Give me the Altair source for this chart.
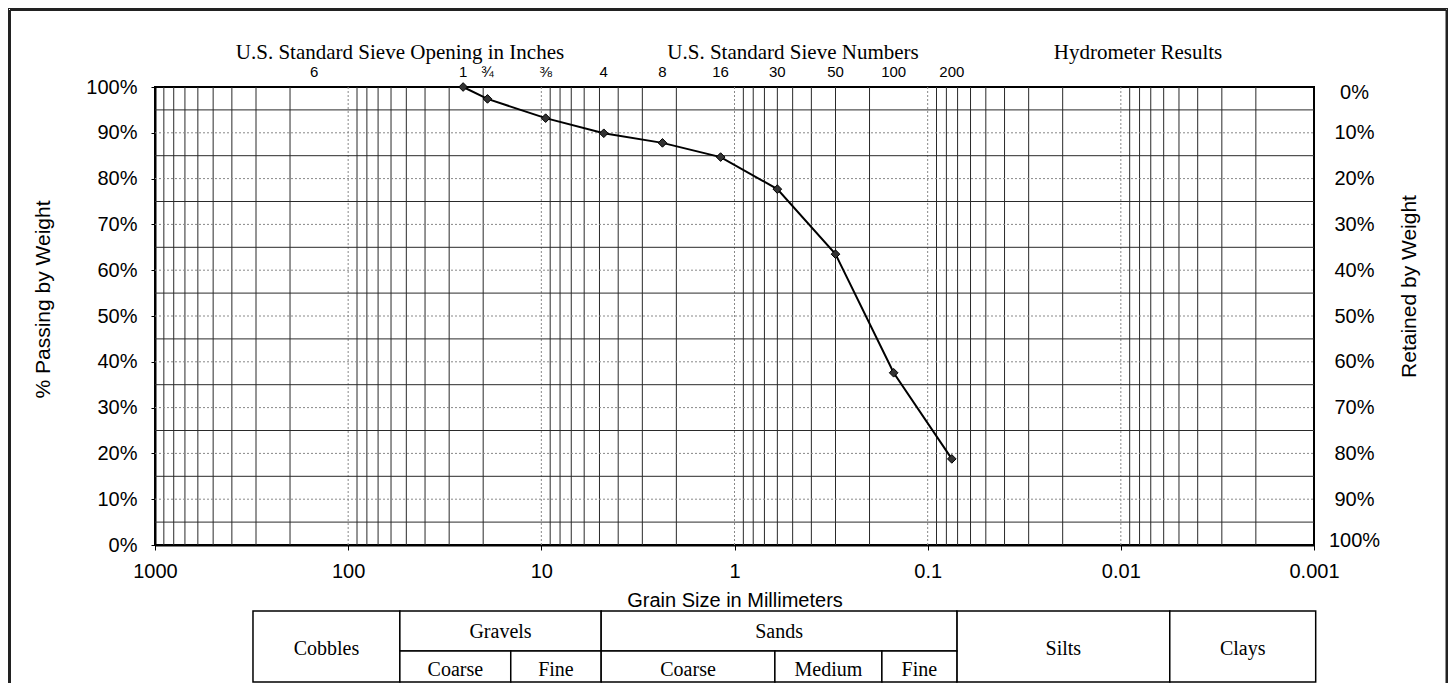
import altair as alt
import pandas as pd
import numpy as np

# ---------------- data ----------------
sieve_mm = [25.4, 19.0, 9.5, 4.75, 2.36, 1.18, 0.60, 0.30, 0.15, 0.075]
passing_pct = [100.0, 97.4, 93.2, 89.9, 87.8, 84.7, 77.7, 63.5, 37.6, 18.8]

label_mm = [150, 25.4, 19.0, 9.5, 4.75, 2.36, 1.18, 0.60, 0.30, 0.15, 0.075]
label_txt = ["6", "1", "¾", "⅜", "4", "8", "16", "30", "50", "100", "200"]

axis_mm = [1000, 100, 10, 1, 0.1, 0.01, 0.001]
decade_mm = [100, 10, 1, 0.1, 0.01]
minor_mm = [k * d for d in [100, 10, 1, 0.1, 0.01, 0.001] for k in range(2, 10)]
pct_ticks = list(range(0, 101, 10))
pct_major = list(range(10, 100, 10))
pct_half = list(range(5, 100, 10))

main_cells = ["Cobbles", "Gravels", "Sands", "Silts", "Clays"]
main_from = [311, 54, 4.9, 0.0706, 0.00558]
main_to = [54, 4.9, 0.0706, 0.00558, 0.00098]
main_span = ["full", "top", "top", "full", "full"]
sub_cells = ["Coarse", "Fine", "Coarse", "Medium", "Fine"]
sub_from = [54, 14.4, 4.9, 0.618, 0.1726]
sub_to = [14.4, 4.9, 0.618, 0.1726, 0.0706]

# ---------------- tables ----------------
curve = pd.DataFrame({"size": sieve_mm, "passing": passing_pct})
labels = pd.DataFrame({"size": label_mm, "txt": label_txt})
dec = pd.DataFrame({"size": decade_mm})
minor = pd.DataFrame({"size": minor_mm})
hmaj = pd.DataFrame({"pct": pct_major})
hhalf = pd.DataFrame({"pct": pct_half})
cells = pd.DataFrame({"name": main_cells, "a": main_from, "b": main_to, "span": main_span})
cells["mid"] = np.sqrt(cells["a"] * cells["b"])
full_df = cells[cells["span"] == "full"]
top_df = cells[cells["span"] == "top"]
subs = pd.DataFrame({"name": sub_cells, "a": sub_from, "b": sub_to})
subs["mid"] = np.sqrt(subs["a"] * subs["b"])

SANS = "Liberation Sans, Arial, sans-serif"
SERIF = "Liberation Serif, Times New Roman, serif"

W, H = 1159, 458
xs = alt.Scale(type="log", domain=[0.001, 1000], reverse=True, nice=False)
ys = alt.Scale(domain=[0, 100], nice=False, zero=False)

# ---------------- grid ----------------
vminor = alt.Chart(minor).mark_rule(color="#2a2a2a", strokeWidth=1).encode(
    x=alt.X("size:Q", scale=xs, axis=None),
    y=alt.value(0), y2=alt.value(H))
vdec = alt.Chart(dec).mark_rule(color="#888", strokeWidth=1, strokeDash=[2, 2]).encode(
    x=alt.X("size:Q", scale=xs, axis=None),
    y=alt.value(0), y2=alt.value(H))
hh = alt.Chart(hhalf).mark_rule(color="#2a2a2a", strokeWidth=1).encode(
    y=alt.Y("pct:Q", scale=ys, axis=None),
    x=alt.value(0), x2=alt.value(W))
hm = alt.Chart(hmaj).mark_rule(color="#888", strokeWidth=1, strokeDash=[2, 2]).encode(
    y=alt.Y("pct:Q", scale=ys, axis=None),
    x=alt.value(0), x2=alt.value(W))

# ---------------- curve ----------------
xaxis = alt.Axis(
    orient="bottom", values=axis_mm,
    labelExpr="datum.value >= 1 ? format(datum.value, 'd') : format(datum.value, '.3~f')",
    tickSize=5, tickColor="black", labelPadding=11, labelFontSize=20, labelFont=SANS,
    labelFlush=False, labelOverlap=False, labelBound=False, grid=False,
    domainColor="black", domainWidth=2,
    title="Grain Size in Millimeters", titleFont=SANS, titleFontSize=20,
    titleFontWeight="normal", titleY=55, titleBaseline="middle")
yaxis = alt.Axis(
    orient="left", values=pct_ticks, labelExpr="datum.value + '%'",
    tickSize=4, tickColor="black", labelPadding=14, labelFontSize=20, labelFont=SANS,
    labelFlush=False, labelOverlap=False, labelBound=False, grid=False,
    domainColor="black", domainWidth=2,
    title="% Passing by Weight", titleFont=SANS, titleFontSize=21,
    titleFontWeight="normal", titleAngle=270, titleX=-112, titleY=212,
    titleBaseline="middle", titleAlign="center")
raxis = alt.Axis(
    orient="right", values=pct_ticks, labelExpr="(100 - datum.value) + '%'",
    ticks=False, tickSize=0, labelPadding=40, labelAlign="center",
    labelFontSize=20, labelFont=SANS, labelFlush=True, labelFlushOffset=5,
    labelOverlap=False, labelBound=False, grid=False, domain=False,
    title="Retained by Weight", titleFont=SANS, titleFontSize=21,
    titleFontWeight="normal", titleAngle=270, titleX=95, titleY=199,
    titleBaseline="middle", titleAlign="center")

line = alt.Chart(curve).mark_line(color="black", strokeWidth=2).encode(
    x=alt.X("size:Q", scale=xs, axis=xaxis),
    y=alt.Y("passing:Q", scale=ys, axis=yaxis))
pts = alt.Chart(curve).mark_point(shape="diamond", filled=True, fill="#333",
                                  stroke="black", strokeWidth=1, size=75, opacity=1).encode(
    x=alt.X("size:Q", scale=xs, axis=None),
    y=alt.Y("passing:Q", scale=ys, axis=raxis))

# ---------------- top labels ----------------
sieve_lbl = alt.Chart(labels).mark_text(font=SANS, fontSize=15, color="black",
                                        baseline="middle", align="center").encode(
    x=alt.X("size:Q", scale=xs, axis=None), y=alt.value(-15), text="txt:N")

def header(txt, px):
    return alt.Chart(pd.DataFrame({"t": [txt]})).mark_text(
        font=SERIF, fontSize=21, color="black", baseline="middle", align="center").encode(
        x=alt.value(px), y=alt.value(-34), text="t:N")

h1 = header("U.S. Standard Sieve Opening in Inches", 245)
h2 = header("U.S. Standard Sieve Numbers", 638)
h3 = header("Hydrometer Results", 983)

# ---------------- classification table ----------------
T_TOP, T_MID, T_BOT = 524, 564, 595
full_cells = alt.Chart(full_df).mark_rect(fill="white", stroke="black", strokeWidth=1.5).encode(
    x=alt.X("a:Q", scale=xs, axis=None), x2="b:Q",
    y=alt.value(T_TOP), y2=alt.value(T_BOT))
top_cells = alt.Chart(top_df).mark_rect(fill="white", stroke="black", strokeWidth=1.5).encode(
    x=alt.X("a:Q", scale=xs, axis=None), x2="b:Q",
    y=alt.value(T_TOP), y2=alt.value(T_MID))
bot_cells = alt.Chart(subs).mark_rect(fill="white", stroke="black", strokeWidth=1.5).encode(
    x=alt.X("a:Q", scale=xs, axis=None), x2="b:Q",
    y=alt.value(T_MID), y2=alt.value(T_BOT))
full_txt = alt.Chart(full_df).mark_text(
    font=SERIF, fontSize=20, color="black", baseline="middle").encode(
    x=alt.X("mid:Q", scale=xs, axis=None), y=alt.value(562), text="name:N")
top_txt = alt.Chart(top_df).mark_text(
    font=SERIF, fontSize=20, color="black", baseline="middle").encode(
    x=alt.X("mid:Q", scale=xs, axis=None), y=alt.value(545), text="name:N")
bot_txt = alt.Chart(subs).mark_text(
    font=SERIF, fontSize=20, color="black", baseline="middle").encode(
    x=alt.X("mid:Q", scale=xs, axis=None), y=alt.value(583), text="name:N")

# ---------------- outer frame (double line) ----------------
def frame_rule(x, x2, y, y2, w):
    return alt.Chart(pd.DataFrame({"k": [0]})).mark_rule(color="#222", strokeWidth=w).encode(
        x=alt.value(x), x2=alt.value(x2), y=alt.value(y), y2=alt.value(y2))

fl = frame_rule(-145, -145, -77, 600, 2)
fr = frame_rule(1291.5, 1291.5, -77, 600, 2)
ft = frame_rule(-145, 1291.5, -77, -77, 2)
fl2 = frame_rule(-146.5, -146.5, -79, 600, 1)
fr2 = frame_rule(1292.5, 1292.5, -79, 600, 1)
ft2 = frame_rule(-146.5, 1292.5, -78.5, -78.5, 1)

chart = alt.layer(vminor, vdec, hh, hm, line, pts, sieve_lbl, h1, h2, h3,
                  full_cells, top_cells, bot_cells, full_txt, top_txt, bot_txt,
                  fl, fr, ft, fl2, fr2, ft2).resolve_axis(
    x="independent", y="independent").properties(
    width=W, height=H,
    autosize=alt.AutoSizeParams(type="none"),
    padding={"left": 147, "top": 79, "right": 134, "bottom": 138},
    background="white",
).configure_view(stroke="black", strokeWidth=2).configure_axis(
    labelColor="black", titleColor="black")

chart.save("out.html", embed_options={"renderer": "svg", "actions": False})
